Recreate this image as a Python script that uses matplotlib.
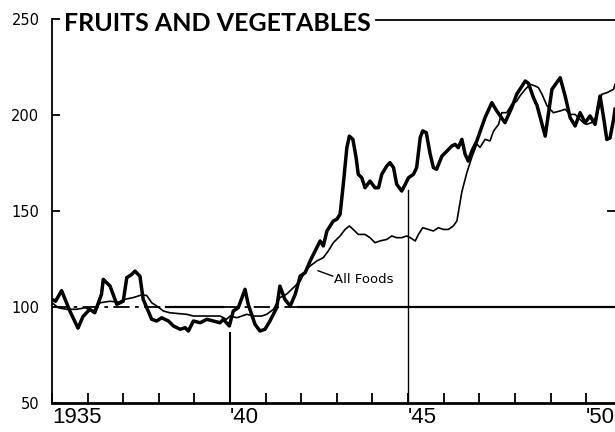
import matplotlib.pyplot as plt

# Fruits and vegetables (heavy line)
anios_fv = [1935.00, 1935.10, 1935.27, 1935.50, 1935.73, 1935.87, 1936.06, 1936.20,
            1936.39, 1936.44, 1936.63, 1936.82, 1937.00, 1937.10, 1937.24, 1937.33,
            1937.47, 1937.56, 1937.80, 1937.94, 1938.08, 1938.27, 1938.41, 1938.60,
            1938.74, 1938.83, 1938.97, 1939.16, 1939.35, 1939.53, 1939.72, 1939.81,
            1939.98, 1940.09, 1940.23, 1940.42, 1940.51, 1940.70, 1940.84, 1940.98,
            1941.12, 1941.31, 1941.40, 1941.54, 1941.69, 1941.83, 1941.97, 1942.11,
            1942.25, 1942.39, 1942.53, 1942.62, 1942.72, 1942.90, 1943.00, 1943.09,
            1943.18, 1943.28, 1943.35, 1943.45, 1943.54, 1943.60, 1943.70, 1943.79,
            1943.93, 1944.07, 1944.17, 1944.26, 1944.40, 1944.49, 1944.59, 1944.68,
            1944.82, 1944.92, 1945.01, 1945.15, 1945.24, 1945.34, 1945.41, 1945.51,
            1945.62, 1945.71, 1945.80, 1945.95, 1946.09, 1946.23, 1946.32, 1946.41,
            1946.51, 1946.60, 1946.69, 1946.79, 1946.93, 1947.16, 1947.35, 1947.49,
            1947.72, 1947.91, 1948.05, 1948.29, 1948.38, 1948.52, 1948.62, 1948.85,
            1949.04, 1949.27, 1949.41, 1949.55, 1949.69, 1949.83, 1949.97, 1950.11,
            1950.25, 1950.39, 1950.49, 1950.58, 1950.67, 1950.77, 1950.81]
valores_fv = [104.0, 103.0, 108.5, 98.0, 89.0, 95.0, 98.8, 97.0,
              106.6, 114.4, 110.9, 101.4, 103.0, 115.3, 117.0, 118.7,
              116.0, 104.0, 93.6, 92.7, 94.4, 92.7, 90.1, 88.4,
              89.2, 87.5, 92.7, 91.8, 93.6, 92.7, 91.8, 93.6,
              90.1, 97.9, 99.6, 109.2, 101.4, 91.0, 87.5, 88.4,
              92.7, 99.6, 110.9, 104.0, 100.5, 106.6, 116.1, 117.9,
              124.0, 129.2, 134.4, 131.8, 139.6, 144.8, 145.7, 148.3,
              163.9, 183.0, 189.0, 187.3, 177.8, 169.1, 167.3, 162.1,
              165.6, 162.1, 162.1, 169.1, 173.4, 175.2, 172.6, 163.9,
              160.4, 163.9, 167.3, 169.1, 172.6, 188.2, 191.7, 190.8,
              179.6, 172.6, 171.7, 178.6, 181.2, 183.9, 184.7, 183.0,
              187.3, 179.6, 176.0, 181.2, 186.5, 198.6, 206.4, 202.1,
              196.0, 203.8, 210.8, 217.7, 216.5, 209.0, 205.0, 189.0,
              213.4, 219.4, 209.9, 198.6, 194.3, 201.2, 196.0, 199.5,
              195.1, 209.9, 198.6, 187.3, 188.0, 197.7, 203.0]

# All foods (light line)
anios_af = [1935.00, 1935.18, 1935.41, 1935.69, 1935.93, 1936.16, 1936.35, 1936.63,
            1936.86, 1937.05, 1937.28, 1937.52, 1937.66, 1937.80, 1937.94, 1938.13,
            1938.31, 1938.59, 1938.78, 1938.97, 1939.25, 1939.53, 1939.72, 1939.90,
            1940.00, 1940.19, 1940.47, 1940.66, 1940.89, 1941.03, 1941.22, 1941.40,
            1941.59, 1941.78, 1941.97, 1942.11, 1942.25, 1942.44, 1942.62, 1942.76,
            1942.90, 1943.09, 1943.23, 1943.35, 1943.46, 1943.60, 1943.79, 1943.93,
            1944.07, 1944.21, 1944.40, 1944.54, 1944.68, 1944.82, 1944.96, 1945.06,
            1945.20, 1945.29, 1945.41, 1945.57, 1945.71, 1945.85, 1945.99, 1946.13,
            1946.27, 1946.37, 1946.51, 1946.65, 1946.79, 1946.93, 1947.02, 1947.16,
            1947.30, 1947.40, 1947.54, 1947.63, 1947.77, 1947.91, 1948.05, 1948.14,
            1948.29, 1948.43, 1948.57, 1948.66, 1948.76, 1948.90, 1949.08, 1949.27,
            1949.41, 1949.55, 1949.69, 1949.78, 1949.92, 1950.01, 1950.15, 1950.30,
            1950.44, 1950.58, 1950.77, 1950.81]
valores_af = [102.2, 99.6, 98.8, 98.8, 99.6, 97.9, 102.2, 103.0,
              102.5, 104.0, 104.9, 106.3, 106.0, 102.2, 100.5, 97.9,
              97.0, 96.5, 96.2, 95.3, 95.3, 95.3, 95.3, 93.6,
              95.3, 94.4, 96.2, 95.3, 95.3, 96.2, 98.8, 104.9,
              106.7, 110.1, 113.5, 118.7, 121.4, 124.0, 125.7, 129.2,
              133.5, 137.0, 140.4, 142.2, 140.4, 137.8, 137.8, 136.1,
              133.5, 134.4, 135.2, 137.0, 136.1, 136.1, 137.0, 136.1,
              134.4, 137.8, 141.3, 140.4, 139.6, 141.3, 140.4, 140.4,
              142.2, 144.8, 160.0, 170.0, 178.0, 184.9, 183.1, 187.3,
              186.5, 191.7, 195.1, 201.2, 201.2, 205.5, 207.2, 209.9,
              213.4, 216.0, 215.1, 214.2, 210.8, 204.8, 201.2, 202.1,
              203.0, 200.3, 200.3, 198.6, 196.0, 195.1, 196.0, 199.5,
              210.8, 211.6, 213.4, 216.0]

# 1935-39 = 100 base line, pieces as drawn
base_guion = [(1935.0, 1938.2), (1939.8, 1941.9)]
base_solida = [(1938.2, 1939.8), (1941.9, 1950.81)]

ticks_anios = [1935, 1940, 1945, 1950]
etiquetas_anios = ['1935', "'40", "'45", "'50"]
ticks_menores = list(range(1936, 1951))
ticks_valores = [50, 100, 150, 200, 250]

fig = plt.figure(figsize=(6.15, 4.32), dpi=100)
ax = fig.add_axes([52 / 615, 1 - 403 / 432, 1 - 52 / 615, (403 - 19) / 432])
ax.set_xlim(1935, 1950.81)
ax.set_ylim(50, 250)

for a, b in base_guion:
    ax.plot([a, b], [100, 100], color='k', linewidth=1.3, dashes=(9, 3, 2, 3))
for a, b in base_solida:
    ax.plot([a, b], [100, 100], color='k', linewidth=1.6)

# vertical marks
ax.plot([1940, 1940], [50, 86.5], color='k', linewidth=1.5)
ax.plot([1945, 1945], [50, 161], color='k', linewidth=1.0)
ax.plot([1950.62, 1950.81], [150, 150], color='k', linewidth=1.3, clip_on=False)

ax.plot(anios_af, valores_af, color='k', linewidth=1.2)
ax.plot(anios_fv, valores_fv, color='k', linewidth=2.5, solid_joinstyle='round')

ax.plot([1942.47, 1942.88], [118.9, 116.1], color='k', linewidth=1.0)
ax.text(1942.93, 114.2, 'All Foods', fontsize=9.5, va='center', ha='left')

ax.text(1935.33, 247.8, 'FRUITS AND VEGETABLES', family='Lato', fontweight='bold',
        fontsize=18, va='center', ha='left')
ax.plot([1944.1, 1950.81], [249.5, 249.5], color='k', linewidth=1.3, clip_on=False)

ax.spines['top'].set_visible(False)
ax.spines['right'].set_visible(False)
ax.spines['left'].set_linewidth(1.3)
ax.spines['bottom'].set_linewidth(2.0)

ax.set_xticks(ticks_anios)
ax.set_xticks(ticks_menores, minor=True)
ax.set_xticklabels(etiquetas_anios, ha='left', family='Liberation Sans', fontsize=16)
ax.tick_params(axis='x', which='both', direction='in', length=7, width=1.3, pad=3)
ax.set_yticks(ticks_valores)
ax.set_yticklabels([str(v) for v in ticks_valores], fontsize=10.5)
ax.tick_params(axis='y', direction='in', length=6, width=1.3, pad=9)

plt.savefig('out.png', dpi=100)
